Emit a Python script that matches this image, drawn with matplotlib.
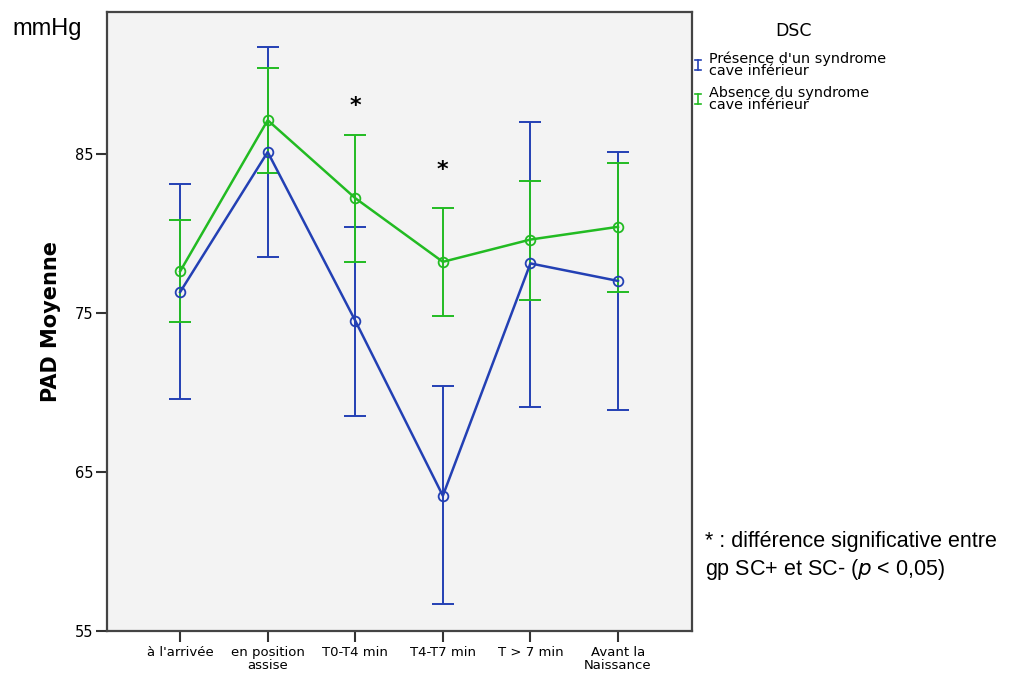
import matplotlib
matplotlib.use("Agg")
import matplotlib.pyplot as plt
from matplotlib.lines import Line2D

# categories (x axis)
categories = ["à l'arrivée", "en position\nassise", "T0-T4 min", "T4-T7 min", "T > 7 min", "Avant la\nNaissance"]

# Présence d'un syndrome cave inférieur (SC+)
sc_plus_mean = [76.3, 85.1, 74.5, 63.5, 78.1, 77.0]
sc_plus_low = [69.6, 78.5, 68.5, 56.7, 69.1, 68.9]
sc_plus_high = [83.1, 91.7, 80.4, 70.4, 87.0, 85.1]

# Absence du syndrome cave inférieur (SC-)
sc_minus_mean = [77.6, 87.1, 82.2, 78.2, 79.6, 80.4]
sc_minus_low = [74.4, 83.8, 78.2, 74.8, 75.8, 76.3]
sc_minus_high = [80.8, 90.4, 86.2, 81.6, 83.3, 84.4]

# significance stars
star_x = [2, 3]
star_y = [88.0, 84.0]

yticks = [55, 65, 75, 85]

blue = '#2340b4'
green = '#22bb22'

fig = plt.figure(figsize=(10.13, 6.75), dpi=100)
ax = fig.add_axes([107/1013, 44/675, 585/1013, 619/675])
ax.set_facecolor('#f3f3f3')

x = list(range(len(categories)))

for mean, low, high, col in [(sc_plus_mean, sc_plus_low, sc_plus_high, blue),
                             (sc_minus_mean, sc_minus_low, sc_minus_high, green)]:
    err = [[m - l for m, l in zip(mean, low)], [h - m for m, h in zip(mean, high)]]
    ax.errorbar(x, mean, yerr=err, fmt='none', ecolor=col, elinewidth=1.4,
                capsize=8, capthick=1.4, zorder=2)
    ax.plot(x, mean, color=col, lw=1.8, marker='o', markersize=7,
            markerfacecolor='none', markeredgecolor=col, markeredgewidth=1.3, zorder=3)

for sx, sy in zip(star_x, star_y):
    ax.text(sx, sy, '*', ha='center', va='center', fontsize=16, fontweight='bold', color='black')

ax.set_xlim(-0.835, 5.845)
ax.set_ylim(55, 93.9)
ax.set_xticks(x)
ax.set_xticklabels(categories, fontsize=9.5, linespacing=0.95)
ax.set_yticks(yticks)
ax.set_yticklabels([str(t) for t in yticks], fontsize=10.5)
ax.tick_params(axis='both', direction='out', length=8, width=1.5, color='#333333')
ax.tick_params(axis='x', pad=3)
ax.tick_params(axis='y', pad=2)
for s in ax.spines.values():
    s.set_color('#444444')
    s.set_linewidth(1.6)

ax.set_ylabel('PAD Moyenne', fontsize=15, fontweight='bold', labelpad=10)

fig.text(12/1013, 1 - 29/675, 'mmHg', fontsize=17, family='Liberation Sans', va='center', ha='left')

# legend
fig.text(793/1013, 1 - 31/675, 'DSC', fontsize=12.5, ha='center', va='center')
leg_items = [("Présence d'un syndrome\ncave inférieur", blue, 65),
             ("Absence du syndrome\ncave inférieur", green, 99)]
for label, col, yc in leg_items:
    fig.text(709/1013, 1 - yc/675, label, fontsize=10.4, ha='left', va='center', linespacing=0.8)
    xm = 698/1013
    y0 = 1 - (yc - 5)/675
    y1 = 1 - (yc + 5)/675
    fig.add_artist(Line2D([xm, xm], [y0, y1], color=col, lw=1.2, transform=fig.transFigure))
    for yy in (y0, y1):
        fig.add_artist(Line2D([xm - 3/1013, xm + 3/1013], [yy, yy], color=col, lw=1.2,
                              transform=fig.transFigure))

fig.text(705/1013, 1 - 542/675, '* : différence significative entre', fontsize=15.5,
         family='Liberation Sans', ha='left', va='center')
fig.text(705/1013, 1 - 569/675, 'gp SC+ et SC- ($\\it{p}$ < 0,05)', fontsize=15.5,
         family='Liberation Sans', ha='left', va='center')

fig.savefig('out.png', dpi=100)
